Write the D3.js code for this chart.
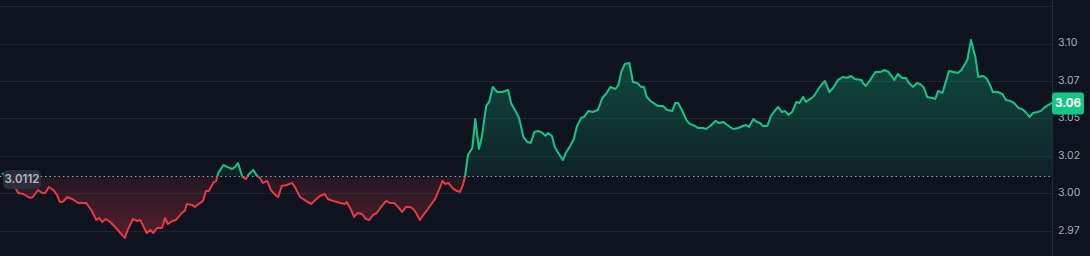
<!DOCTYPE html>
<html>
<head>
<meta charset="utf-8">
<script src="https://cdn.jsdelivr.net/npm/d3@7"></script>
<style>
  html, body { margin: 0; padding: 0; background: #0d1420; overflow: hidden; }
  svg { display: block; }
</style>
</head>
<body>
<div id="chart"></div>
<script>
// minutes since start of the window
const times = [3, 11, 16, 21, 25, 32, 41, 45, 52, 58, 62, 67, 73, 78, 82, 86, 92, 99, 107, 114, 118, 125, 132, 136, 140, 145, 151, 159, 167, 171, 175, 182, 188, 192, 201, 206, 210, 215, 222, 226, 230, 236, 241, 249, 253, 256, 263, 267, 274, 278, 282, 286, 292, 296, 299, 306, 311, 318, 322, 326, 332, 337, 340, 347, 352, 356, 360, 366, 371, 377, 381, 386, 393, 400, 404, 411, 419, 426, 432, 438, 445, 449, 456, 466, 473, 475, 481, 485, 490, 496, 501, 506, 511, 516, 523, 529, 534, 540, 545, 551, 556, 562, 566, 570, 575, 582, 589, 596, 603, 606, 610, 614, 621, 626, 630, 634, 637, 641, 647, 651, 656, 660, 666, 670, 675, 681, 688, 696, 700, 706, 711, 717, 722, 727, 732, 737, 743, 747, 751, 756, 760, 764, 771, 775, 781, 786, 790, 796, 800, 806, 812, 819, 825, 830, 836, 843, 847, 851, 856, 862, 867, 873, 878, 882, 886, 891, 895, 901, 908, 914, 921, 925, 929, 934, 941, 945, 952, 956, 963, 967, 973, 980, 985, 991, 996, 1004, 1011, 1018, 1022, 1026, 1032, 1037, 1041, 1045, 1051, 1056, 1062, 1066, 1071, 1075, 1080, 1085, 1091, 1095, 1100, 1104, 1110, 1115, 1121, 1126, 1130, 1136, 1141, 1148, 1155, 1160, 1166, 1171, 1180, 1182, 1186, 1192, 1199, 1206, 1212, 1217, 1225, 1230, 1236, 1241, 1245, 1251, 1256, 1260, 1265, 1270, 1277, 1281, 1285, 1291, 1295, 1300, 1306, 1312, 1317, 1325, 1330, 1336, 1340, 1347, 1352, 1356, 1360, 1367, 1373, 1378, 1384, 1389, 1395, 1402, 1406, 1410, 1415, 1421, 1426, 1430, 1436, 1441];

const prices = [3.0136, 3.0102, 3.0062, 3.0035, 3.0002, 2.9995, 2.9969, 2.9975, 3.0022, 3.0002, 3.0002, 3.0042, 3.0022, 2.9989, 2.9942, 2.9942, 2.9975, 2.9962, 2.9935, 2.9935, 2.9935, 2.9888, 2.9822, 2.9835, 2.9808, 2.9828, 2.9808, 2.9768, 2.9722, 2.9702, 2.9755, 2.9828, 2.9815, 2.9822, 2.9735, 2.9755, 2.9735, 2.9768, 2.9768, 2.9835, 2.9795, 2.9815, 2.9822, 2.9868, 2.9882, 2.9929, 2.9922, 2.9909, 2.9935, 2.9949, 3.0015, 3.0015, 3.0069, 3.0082, 3.0136, 3.0189, 3.0176, 3.0162, 3.0176, 3.0202, 3.0109, 3.0095, 3.0122, 3.0156, 3.0116, 3.0102, 3.0069, 3.0082, 3.0022, 2.9989, 2.9975, 3.0049, 3.0055, 3.0069, 3.0042, 2.9975, 2.9949, 2.9929, 2.9955, 2.9982, 2.9995, 2.9962, 2.9949, 2.9935, 2.9929, 2.9942, 2.9888, 2.9842, 2.9868, 2.9862, 2.9828, 2.9822, 2.9855, 2.9868, 2.9915, 2.9949, 2.9935, 2.9935, 2.9909, 2.9875, 2.9909, 2.9909, 2.9895, 2.9868, 2.9822, 2.9868, 2.9915, 2.9962, 3.0042, 3.0082, 3.0062, 3.0069, 3.0029, 3.0015, 3.0009, 3.0055, 3.0109, 3.0256, 3.0302, 3.0496, 3.0296, 3.0376, 3.0583, 3.0610, 3.0710, 3.0676, 3.0676, 3.0690, 3.0603, 3.0550, 3.0503, 3.0376, 3.0343, 3.0336, 3.0409, 3.0416, 3.0403, 3.0383, 3.0403, 3.0383, 3.0309, 3.0276, 3.0222, 3.0269, 3.0316, 3.0363, 3.0443, 3.0503, 3.0509, 3.0550, 3.0543, 3.0556, 3.0636, 3.0663, 3.0710, 3.0696, 3.0723, 3.0810, 3.0863, 3.0870, 3.0743, 3.0736, 3.0710, 3.0710, 3.0643, 3.0616, 3.0603, 3.0583, 3.0583, 3.0556, 3.0550, 3.0603, 3.0603, 3.0556, 3.0483, 3.0463, 3.0449, 3.0436, 3.0436, 3.0429, 3.0449, 3.0483, 3.0469, 3.0476, 3.0456, 3.0429, 3.0436, 3.0449, 3.0456, 3.0443, 3.0496, 3.0476, 3.0469, 3.0449, 3.0449, 3.0516, 3.0556, 3.0576, 3.0543, 3.0550, 3.0523, 3.0543, 3.0610, 3.0603, 3.0643, 3.0610, 3.0630, 3.0650, 3.0696, 3.0730, 3.0750, 3.0676, 3.0703, 3.0757, 3.0777, 3.0770, 3.0783, 3.0763, 3.0757, 3.0736, 3.0716, 3.0757, 3.0810, 3.0810, 3.0823, 3.0810, 3.0757, 3.0797, 3.0770, 3.0770, 3.0736, 3.0710, 3.0736, 3.0730, 3.0710, 3.0643, 3.0636, 3.0630, 3.0683, 3.0670, 3.0736, 3.0817, 3.0810, 3.0803, 3.0823, 3.0890, 3.1024, 3.0910, 3.0777, 3.0783, 3.0763, 3.0723, 3.0676, 3.0676, 3.0663, 3.0623, 3.0616, 3.0603, 3.0570, 3.0556, 3.0536, 3.0509, 3.0536, 3.0543, 3.0550, 3.0570, 3.0590, 3.0603];

const basePrice = 3.0112;
const lastPrice = 3.06;
const gridValues = [2.975, 3.0, 3.025, 3.05, 3.075, 3.1, 3.125];
const tickValues = [2.975, 3.0, 3.025, 3.05, 3.075, 3.1];
const tickLabels = ["2.97", "3.00", "3.02", "3.05", "3.07", "3.10"];

const W = 1090, H = 256, plotW = 1052;
const green = "#16c784", red = "#ea3943";

const data = times.map((t, i) => ({ t, v: prices[i] }));

const x = d3.scaleLinear().domain([0, 1441]).range([0, plotW]);
const y = d3.scaleLinear().domain([2.975, 3.1]).range([230.7, 43.5]);
const yBase = y(basePrice);

const svg = d3.select("#chart").append("svg")
    .attr("width", W)
    .attr("height", H)
    .style("font-family", "Inter, 'Noto Sans', sans-serif");

svg.append("rect").attr("width", W).attr("height", H).attr("fill", "#0d1420");

const defs = svg.append("defs");
defs.append("clipPath").attr("id", "clipUp")
    .append("rect").attr("x", 0).attr("y", 0).attr("width", plotW).attr("height", yBase);
defs.append("clipPath").attr("id", "clipDown")
    .append("rect").attr("x", 0).attr("y", yBase).attr("width", plotW).attr("height", H - yBase);

const gUp = defs.append("linearGradient").attr("id", "gradUp")
    .attr("gradientUnits", "userSpaceOnUse")
    .attr("x1", 0).attr("x2", 0).attr("y1", y(3.1)).attr("y2", yBase);
gUp.append("stop").attr("offset", 0).attr("stop-color", green).attr("stop-opacity", 0.32);
gUp.append("stop").attr("offset", 1).attr("stop-color", green).attr("stop-opacity", 0.08);

const gDown = defs.append("linearGradient").attr("id", "gradDown")
    .attr("gradientUnits", "userSpaceOnUse")
    .attr("x1", 0).attr("x2", 0).attr("y1", yBase).attr("y2", y(2.97));
gDown.append("stop").attr("offset", 0).attr("stop-color", red).attr("stop-opacity", 0.1);
gDown.append("stop").attr("offset", 1).attr("stop-color", red).attr("stop-opacity", 0.32);

// grid
svg.append("g").selectAll("line")
    .data(gridValues)
    .enter().append("line")
    .attr("x1", 0).attr("x2", plotW)
    .attr("y1", d => Math.round(y(d)) + 0.5)
    .attr("y2", d => Math.round(y(d)) + 0.5)
    .attr("stroke", "#1c2331")
    .attr("stroke-width", 1);

// right border of plot
svg.append("line")
    .attr("x1", plotW + 0.5).attr("x2", plotW + 0.5)
    .attr("y1", 0).attr("y2", H)
    .attr("stroke", "#222a38");

const area = d3.area().x(d => x(d.t)).y0(yBase).y1(d => y(d.v));
const line = d3.line().x(d => x(d.t)).y(d => y(d.v));

svg.append("path").datum(data).attr("d", area)
    .attr("fill", "url(#gradUp)").attr("clip-path", "url(#clipUp)");
svg.append("path").datum(data).attr("d", area)
    .attr("fill", "url(#gradDown)").attr("clip-path", "url(#clipDown)");

// baseline
svg.append("line")
    .attr("x1", 0).attr("x2", plotW)
    .attr("y1", yBase).attr("y2", yBase)
    .attr("stroke", "#9aa0ab")
    .attr("stroke-width", 1)
    .attr("stroke-dasharray", "1.5,3");

svg.append("path").datum(data).attr("d", line)
    .attr("fill", "none").attr("stroke", green).attr("stroke-width", 2)
    .attr("stroke-linejoin", "round").attr("clip-path", "url(#clipUp)");
svg.append("path").datum(data).attr("d", line)
    .attr("fill", "none").attr("stroke", red).attr("stroke-width", 2)
    .attr("stroke-linejoin", "round").attr("clip-path", "url(#clipDown)");

// base price label
svg.append("rect")
    .attr("x", 3).attr("y", yBase - 6.5).attr("width", 38).attr("height", 19).attr("rx", 5)
    .attr("fill", "#2a303b").attr("fill-opacity", 0.92);
svg.append("text")
    .attr("x", 22).attr("y", yBase + 3)
    .attr("text-anchor", "middle").attr("dominant-baseline", "middle")
    .attr("font-size", 11.5).attr("font-weight", 600)
    .attr("fill", "#b3b8c2")
    .text(basePrice.toFixed(4));

// y axis labels
svg.append("g").selectAll("text")
    .data(tickValues)
    .enter().append("text")
    .attr("x", 1058)
    .attr("y", d => y(d))
    .attr("dominant-baseline", "middle")
    .attr("font-size", 10.5)
    .attr("fill", "#a3abbd")
    .text((d, i) => tickLabels[i]);

// last price tag
svg.append("rect")
    .attr("x", plotW).attr("y", y(lastPrice) - 11).attr("width", 32).attr("height", 22).attr("rx", 3)
    .attr("fill", green);
svg.append("text")
    .attr("x", plotW + 16).attr("y", y(lastPrice) + 0.5)
    .attr("text-anchor", "middle").attr("dominant-baseline", "middle")
    .attr("font-size", 11.5).attr("font-weight", 700)
    .attr("fill", "#ffffff")
    .text(lastPrice.toFixed(2));
</script>
</body>
</html>
